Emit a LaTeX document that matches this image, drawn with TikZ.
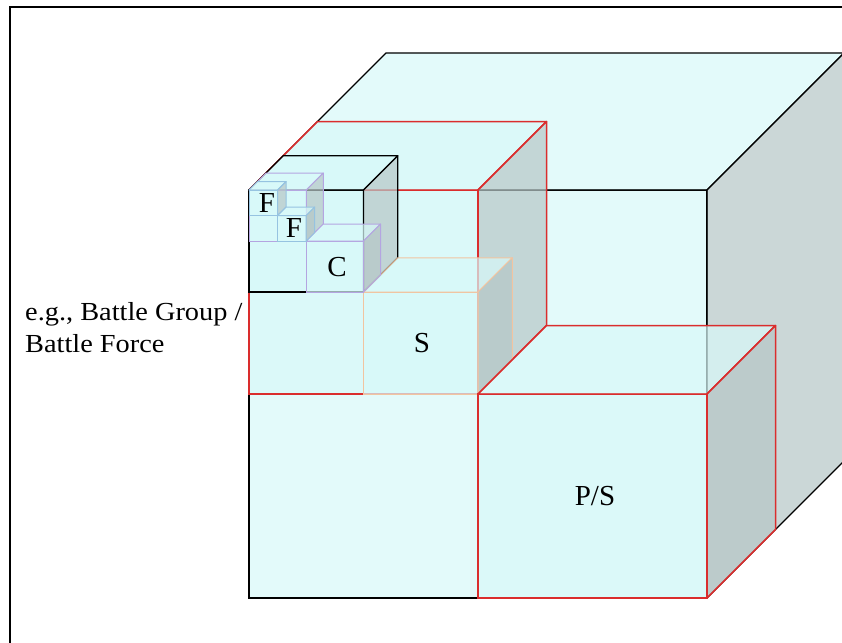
\documentclass[tikz,border=0pt]{standalone}
\usepackage{fontspec}
\setmainfont{Liberation Serif}
\newfontfamily\captfont[FakeStretch=1.09]{Liberation Serif}
\definecolor{cyanface}{RGB}{216,249,249}
\definecolor{sideface}{RGB}{182,199,199}
\definecolor{redline}{RGB}{218,45,45}
\definecolor{peachline}{RGB}{242,196,160}
\definecolor{lavline}{RGB}{180,165,225}
\definecolor{blueline}{RGB}{150,195,225}
\tikzset{
  face/.style={fill=cyanface, fill opacity=0.7},
  sideshade/.style={fill=sideface, fill opacity=0.7},
  blackedge/.style={draw=black, line width=1.3pt},
  rededge/.style={draw=redline, line width=1.5pt},
  peachedge/.style={draw=peachline, line width=1pt},
  lavedge/.style={draw=lavline, line width=1pt},
  blueedge/.style={draw=blueline, line width=1pt},
  lbl/.style={inner sep=0pt, font=\fontsize{29}{29}\selectfont},
  caption/.style={anchor=base west, inner sep=0pt, font=\captfont\fontsize{26}{32}\selectfont},
  frameline/.style={draw=black, line width=2.5pt}
}
% #1 x, #2 y (front top-left), #3 width, #4 height, #5 depth, #6 edge style
\newcommand{\drawcube}[6]{%
  \path[face,#6] (#1,#2) rectangle ++(#3,#4);
  \path[face,#6,line join=round] (#1,#2) -- ++(#5,-#5) -- ++(#3,0) -- ++(-#5,#5) -- cycle;
  \path[sideshade,#6,line join=round] (#1+#3,#2) -- ++(#5,-#5) -- ++(0,#4) -- ++(-#5,#5) -- cycle;
}
\begin{document}
\begin{tikzpicture}[x=1pt,y=-1pt]
\useasboundingbox (0,0) rectangle (842,642);
\clip (0,0) rectangle (842,642);
\fill[white] (0,0) rectangle (842,642);
% outer frame
\draw[frameline] (10,660) -- (10,7) -- (860,7);
% big cube
\drawcube{249}{190}{458}{408}{137}{blackedge}
% red top-left cube
\drawcube{249}{190}{229}{204}{68.5}{rededge}
% black cube
\drawcube{249}{190}{114.5}{102}{34.25}{blackedge}
% S cube
\drawcube{363.5}{292}{114.5}{102}{34.25}{peachedge}
% P/S cube
\drawcube{478}{394}{229}{204}{68.5}{rededge}
% lavender cube
\drawcube{249}{190}{57.25}{51}{17}{lavedge}
% C cube
\drawcube{306.25}{241}{57.25}{51}{17}{lavedge}
% F cubes
\drawcube{249}{190}{28.6}{25.5}{8.5}{blueedge}
\drawcube{277.6}{215.5}{28.6}{25.5}{8.5}{blueedge}
% labels
\node[lbl] (f1) at (267,203) {F};
\node[lbl] (f2) at (294,228) {F};
\node[lbl] (c) at (337,267) {C};
\node[lbl] (s) at (422,343) {S};
\node[lbl] (ps) at (595,496) {P/S};
\node[caption] (t1) at (25,320) {e.g., Battle Group /};
\node[caption] (t2) at (25,352) {Battle Force};
\end{tikzpicture}
\end{document}
